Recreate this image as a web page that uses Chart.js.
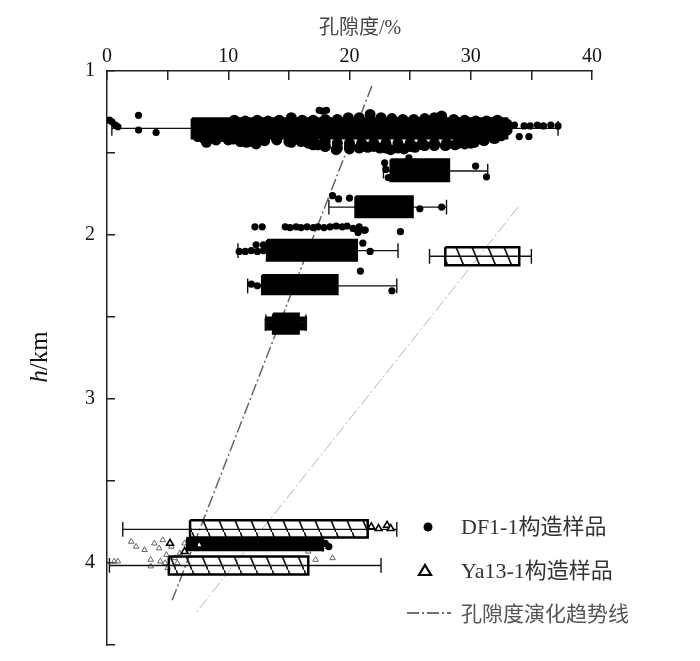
<!DOCTYPE html>
<html>
<head>
<meta charset="utf-8">
<style>
  html, body { margin: 0; padding: 0; background: #fff; }
  canvas { display: block; }
</style>
<script src="https://cdn.jsdelivr.net/npm/chart.js@4"></script>
</head>
<body>
<canvas id="myChart" width="700" height="661"></canvas>
<script>
// porosity (%) and depth (km)
const df1BoxLow = [7.0, 23.4, 20.5, 13.2, 12.8, 13.7, 13.1, 6.6];
const df1BoxHigh = [33.0, 28.2, 25.2, 20.6, 19.0, 15.8, 16.4, 17.8];
const df1BoxTop = [1.29, 1.54, 1.765, 2.03, 2.245, 2.48, 2.505, 3.85];
const df1BoxBottom = [1.41, 1.67, 1.89, 2.155, 2.36, 2.6, 2.575, 3.92];
const df1WhiskerDepth = [1.35, 1.61, 1.83, 2.095, 2.31, 2.53, 2.54, 3.885];
const df1WhiskerLow = [0.4, 22.8, 18.3, 10.8, 11.6, 13.1, 13.1, 6.6];
const df1WhiskerHigh = [37.2, 31.4, 28.0, 24.0, 23.9, 16.4, 16.4, 17.8];

const ya13BoxLow = [27.9, 6.85, 5.1];
const ya13BoxHigh = [34.0, 21.5, 16.6];
const ya13BoxTop = [2.075, 3.74, 3.96];
const ya13BoxBottom = [2.185, 3.845, 4.07];
const ya13WhiskerDepth = [2.13, 3.795, 4.015];
const ya13WhiskerLow = [26.6, 1.3, 0.2];
const ya13WhiskerHigh = [35.0, 23.9, 22.6];

// the dense mass of samples round the first box
const cloudX = [
  8.0, 9.5, 10.5, 11.4, 12.4, 13.3, 14.2, 15.2, 16.1, 17.0, 18.0, 19.0, 19.9, 20.8, 21.7, 22.6, 23.5, 24.4, 25.3, 26.2, 27.0, 27.6, 28.6, 29.5, 30.4, 31.3, 32.2, 33.0,
  7.5, 8.2, 8.9, 9.6, 10.4, 11.5, 12.3, 13.0, 14.0, 15.2, 16.6, 17.4, 18.0, 18.9, 20.0, 20.8, 21.5, 22.5, 23.4, 24.5, 25.4, 26.2, 27.0, 27.9, 28.7, 29.5, 30.3, 31.1, 31.9, 32.5, 33.0,
  8.0, 9.0, 10.0, 11.0, 12.0, 13.0, 14.0, 15.0, 16.0, 17.0, 18.0, 19.0, 20.0, 21.0, 22.0, 23.0, 24.0, 25.0, 26.0, 27.0, 28.0, 29.0, 30.0, 31.0, 32.0,
  17.0, 18.0, 19.0, 20.0, 21.0, 22.0, 23.0, 24.0, 25.0, 26.0, 27.0, 28.0, 29.0, 30.0
];
const cloudY = [
  1.32, 1.32, 1.30, 1.305, 1.30, 1.305, 1.30, 1.285, 1.30, 1.30, 1.295, 1.295, 1.285, 1.285, 1.265, 1.285, 1.29, 1.295, 1.295, 1.29, 1.285, 1.275, 1.295, 1.30, 1.305, 1.305, 1.30, 1.325,
  1.40, 1.435, 1.415, 1.40, 1.415, 1.435, 1.445, 1.425, 1.415, 1.435, 1.44, 1.45, 1.46, 1.48, 1.475, 1.47, 1.465, 1.47, 1.48, 1.475, 1.465, 1.455, 1.455, 1.455, 1.45, 1.445, 1.435, 1.425, 1.41, 1.395, 1.36,
  1.41, 1.42, 1.42, 1.43, 1.43, 1.42, 1.42, 1.43, 1.43, 1.43, 1.43, 1.44, 1.44, 1.44, 1.44, 1.44, 1.44, 1.44, 1.44, 1.44, 1.44, 1.43, 1.43, 1.42, 1.41,
  1.45, 1.46, 1.47, 1.46, 1.46, 1.46, 1.47, 1.47, 1.46, 1.45, 1.45, 1.45, 1.44, 1.44
];

const df1X = [
  0.2, 0.4, 0.7, 0.9, 2.6, 2.6, 4.05, 17.5, 17.8, 18.1,
  33.6, 34.4, 34.9, 35.5, 36.0, 36.6, 37.2, 34.0, 34.8,
  22.9, 23.0, 23.2, 24.9, 30.4, 31.3,
  18.6, 19.1, 20.0, 25.8, 27.6,
  12.2, 12.8, 14.7, 15.1, 15.6, 16.0, 16.5, 17.0, 17.4, 17.9, 18.4, 18.9, 19.4, 19.8, 20.3, 20.8, 21.3, 20.7, 21.2, 24.2,
  10.9, 11.4, 11.9, 12.4, 12.9, 12.3, 12.9, 21.1, 21.7, 20.9, 11.9, 12.4, 23.5,
  6.9, 7.2, 18.0, 18.3
];
const df1Y = [
  1.30, 1.31, 1.33, 1.34, 1.27, 1.36, 1.375, 1.24, 1.245, 1.24,
  1.33, 1.335, 1.335, 1.33, 1.335, 1.33, 1.335, 1.40, 1.40,
  1.56, 1.60, 1.65, 1.53, 1.58, 1.645,
  1.76, 1.78, 1.775, 1.84, 1.83,
  1.95, 1.95, 1.95, 1.955, 1.95, 1.955, 1.95, 1.955, 1.95, 1.955, 1.95, 1.945, 1.95, 1.945, 1.96, 1.95, 1.97, 1.985, 1.97, 1.98,
  2.10, 2.10, 2.095, 2.10, 2.095, 2.06, 2.06, 2.05, 2.10, 2.22, 2.30, 2.31, 2.34,
  3.86, 3.89, 3.88, 3.90
];

const ya13X = [21.8, 22.4, 23.1, 23.4, 5.2, 6.4, 7.6];
const ya13Y = [3.78, 3.79, 3.77, 3.79, 3.88, 3.93, 3.89];
const ya13FaintX = [2.0, 2.4, 3.1, 3.6, 3.9, 4.3, 4.6, 4.9, 5.3, 5.6, 6.0, 6.4, 4.4, 4.8, 3.6, 5.0, 5.8, 8.0, 8.8, 9.6, 16.6, 17.2, 18.0, 18.6, 0.6, 0.9];
const ya13FaintY = [3.87, 3.90, 3.92, 3.98, 3.88, 3.91, 3.86, 3.95, 3.90, 3.97, 3.94, 3.88, 3.99, 4.00, 4.02, 4.03, 4.00, 3.86, 3.90, 3.88, 3.93, 3.98, 3.90, 3.97, 3.99, 3.99];

const trendDepth1 = [1.09, 4.23];
const trendPorosity1 = [21.85, 5.36];
const trendDepth2 = [1.83, 4.31];
const trendPorosity2 = [33.9, 7.26];

const xTicksLabelled = [0, 10, 20, 30, 40];
const yTicksLabelled = [1, 2, 3, 4];

const serif = '"Liberation Serif", "Noto Sans CJK SC", serif';
const capSize = 0.045;

// diagonal stripes for the Ya13-1 boxes
function makeHatch() {
    const c = document.createElement('canvas');
    c.width = 16;
    c.height = 38;
    const g = c.getContext('2d');
    g.strokeStyle = '#111';
    g.lineWidth = 1.6;
    g.beginPath();
    g.moveTo(-2, -5);
    g.lineTo(18, 43);
    g.stroke();
    return g.createPattern(c, 'repeat');
}

function rectDataset(low, high, top, bottom, fillStyle) {
    return {
        showLine: true,
        data: [
            {x: low, y: top}, {x: high, y: top}, {x: high, y: bottom},
            {x: low, y: bottom}, {x: low, y: top}
        ],
        pointRadius: 0,
        borderColor: '#000',
        borderWidth: 2.5,
        backgroundColor: fillStyle,
        fill: 'shape',
        tension: 0
    };
}

function whiskerDataset(low, high, depth) {
    return {
        showLine: true,
        data: [
            {x: low, y: depth - capSize}, {x: low, y: depth + capSize}, {x: NaN, y: NaN},
            {x: low, y: depth}, {x: high, y: depth}, {x: NaN, y: NaN},
            {x: high, y: depth - capSize}, {x: high, y: depth + capSize}
        ],
        pointRadius: 0,
        borderColor: '#111',
        borderWidth: 1.4,
        fill: false
    };
}

const datasets = [];

// first dataset is painted last, so dark marks go first
datasets.push({
    data: cloudX.map((v, i) => ({x: v, y: cloudY[i]})),
    pointRadius: 5.5,
    pointBackgroundColor: '#000',
    pointBorderWidth: 0
});
datasets.push({
    data: df1X.map((v, i) => ({x: v, y: df1Y[i]})),
    pointRadius: 3.6,
    pointBackgroundColor: '#000',
    pointBorderWidth: 0
});
datasets.push({
    data: ya13X.map((v, i) => ({x: v, y: ya13Y[i]})),
    pointStyle: 'triangle',
    pointRadius: 4,
    pointBackgroundColor: '#fff',
    pointBorderColor: '#000',
    pointBorderWidth: 1.6
});
df1BoxLow.forEach((v, i) => {
    datasets.push(rectDataset(v, df1BoxHigh[i], df1BoxTop[i], df1BoxBottom[i], '#000'));
    datasets.push(whiskerDataset(df1WhiskerLow[i], df1WhiskerHigh[i], df1WhiskerDepth[i]));
});
const hatch = makeHatch();
ya13BoxLow.forEach((v, i) => {
    datasets.push(rectDataset(v, ya13BoxHigh[i], ya13BoxTop[i], ya13BoxBottom[i], hatch));
    datasets.push(whiskerDataset(ya13WhiskerLow[i], ya13WhiskerHigh[i], ya13WhiskerDepth[i]));
});
datasets.push({
    data: ya13FaintX.map((v, i) => ({x: v, y: ya13FaintY[i]})),
    pointStyle: 'triangle',
    pointRadius: 3.2,
    pointBackgroundColor: 'rgba(255,255,255,0)',
    pointBorderColor: '#666',
    pointBorderWidth: 1
});
datasets.push({
    showLine: true,
    data: trendDepth1.map((d, i) => ({x: trendPorosity1[i], y: d})),
    pointRadius: 0,
    borderColor: '#666',
    borderWidth: 1.5,
    borderDash: [12, 3, 2, 3]
});
datasets.push({
    showLine: true,
    data: trendDepth2.map((d, i) => ({x: trendPorosity2[i], y: d})),
    pointRadius: 0,
    borderColor: '#b5b5b5',
    borderWidth: 1,
    borderDash: [12, 3, 2, 3]
});

// axis titles and the legend block sit in fixed spots on the canvas
const labelsPlugin = {
    id: 'labelsPlugin',
    afterDraw(chart) {
        const ctx = chart.ctx;
        ctx.save();
        ctx.fillStyle = '#111';
        ctx.textBaseline = 'middle';

        ctx.textAlign = 'center';
        ctx.font = '20px ' + serif;
        ctx.fillStyle = '#444';
        ctx.fillText('孔隙度/%', 360, 29);
        ctx.fillStyle = '#111';

        ctx.save();
        ctx.translate(40, 357);
        ctx.rotate(-Math.PI / 2);
        ctx.font = 'italic 25px ' + serif;
        const hWidth = ctx.measureText('h').width;
        ctx.font = '25px ' + serif;
        const kmWidth = ctx.measureText('/km').width;
        ctx.textAlign = 'left';
        ctx.font = 'italic 25px ' + serif;
        ctx.fillText('h', -(hWidth + kmWidth) / 2, 0);
        ctx.font = '25px ' + serif;
        ctx.fillText('/km', -(hWidth + kmWidth) / 2 + hWidth, 0);
        ctx.restore();

        ctx.textAlign = 'left';
        ctx.font = '22px ' + serif;
        ctx.fillStyle = '#333';
        ctx.fillText('DF1-1构造样品', 461, 528);
        ctx.fillText('Ya13-1构造样品', 461, 572);
        ctx.font = '21px ' + serif;
        ctx.fillStyle = '#555';
        ctx.fillText('孔隙度演化趋势线', 461, 615);

        ctx.fillStyle = '#000';
        ctx.beginPath();
        ctx.arc(428, 527, 4.5, 0, Math.PI * 2);
        ctx.fill();

        ctx.strokeStyle = '#000';
        ctx.lineWidth = 2.2;
        ctx.beginPath();
        ctx.moveTo(425, 565);
        ctx.lineTo(431, 575);
        ctx.lineTo(419, 575);
        ctx.closePath();
        ctx.stroke();

        ctx.strokeStyle = '#444';
        ctx.lineWidth = 1.5;
        ctx.setLineDash([12, 3, 2, 3]);
        ctx.beginPath();
        ctx.moveTo(407, 613);
        ctx.lineTo(451, 613);
        ctx.stroke();
        ctx.restore();
    }
};

const ctx = document.getElementById('myChart').getContext('2d');
const myChart = new Chart(ctx, {
    type: 'scatter',
    data: {datasets: datasets},
    plugins: [labelsPlugin],
    options: {
        responsive: false,
        animation: false,
        layout: {autoPadding: false, padding: {left: 0, right: 108, top: 0, bottom: 16}},
        plugins: {legend: {display: false}, tooltip: {enabled: false}},
        scales: {
            x: {
                type: 'linear',
                position: 'top',
                min: 0,
                max: 40,
                afterFit(scale) { scale.height = 71; },
                border: {display: true, color: '#222', width: 1.5},
                grid: {drawOnChartArea: false, tickLength: -9, color: '#222', lineWidth: 1.5},
                ticks: {
                    stepSize: 5,
                    autoSkip: false,
                    maxRotation: 0,
                    padding: 11,
                    color: '#111',
                    font: {family: serif, size: 20},
                    callback: v => xTicksLabelled.includes(v) ? String(v) : ''
                }
            },
            y: {
                type: 'linear',
                reverse: true,
                min: 1,
                max: 4.5,
                // tick padding would otherwise be reserved below the axis
                afterFit(scale) { scale.width = 107; scale.paddingBottom = 0; },
                border: {display: true, color: '#222', width: 1.5},
                grid: {drawOnChartArea: false, tickLength: -8, color: '#222', lineWidth: 1.5},
                ticks: {
                    stepSize: 0.5,
                    autoSkip: false,
                    padding: 20,
                    color: '#111',
                    font: {family: serif, size: 20},
                    callback: v => yTicksLabelled.includes(v) ? String(v) : ''
                }
            }
        }
    }
});
</script>
</body>
</html>
